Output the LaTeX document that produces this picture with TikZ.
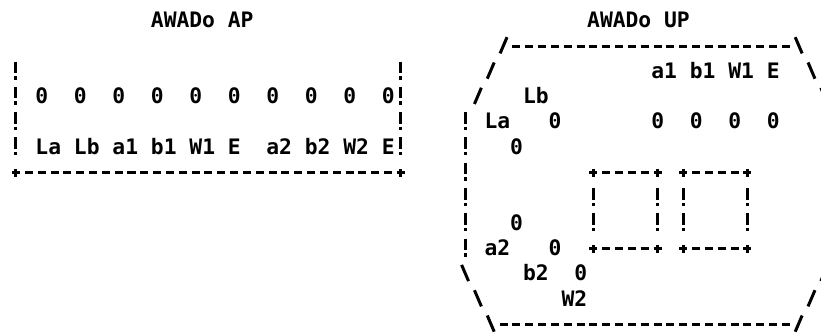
\documentclass[tikz,border=0pt]{standalone}
\usepackage{fontspec}
\newfontfamily\gridfont{DejaVu Sans Mono}
\tikzset{
  txt/.style={font=\gridfont\bfseries\fontsize{21.3}{25}\selectfont,inner sep=0pt,
    anchor=base west,xshift=-6.4pt,yshift=-7.75pt},
  hole/.style={txt},
  bar/.style={line width=3pt,dash pattern=on 11.5pt off 3pt on 3.5pt off 7.3pt},
  rule/.style={line width=3pt,dash pattern=on 8pt off 4.83pt},
  stroke/.style={line width=3pt},
}
\begin{document}
\begin{tikzpicture}[x=12.83pt,y=-25.3pt]
\useasboundingbox (-1.247,-0.79) rectangle (62.74,12.37);
% AP layout
\node[txt] (apt) at (11,0) {AWADo AP};
\draw[bar] (0,1.644) -- (0,5.356);
\draw[bar] (30,1.644) -- (30,5.356);
\draw[rule] (0.69,6.04) -- (29.31,6.04);
\foreach \k in {0,30}
 \draw[stroke] (\k-0.31,6.04) -- (\k+0.31,6.04) (\k,5.88) -- (\k,6.2);
\foreach \k/\s [count=\i] in {2/La,5/Lb,8/a1,11/b1,14/W1,17/E,20/a2,23/b2,26/W2,29/E}{%
 \node[hole] (ap\i) at (\k,3) {0};
 \node[txt] (apl\i) at (\k,5) {\s};}
% UP layout
\node[txt] (upt) at (45,0) {AWADo UP};
\draw[rule] (38.69,1.04) -- (60.31,1.04);
\draw[rule] (37.69,12.04) -- (60.31,12.04);
\foreach \k/\r in {38/1,37/2,36/3,63/10,62/11,61/12}
 \draw[stroke] (\k-0.27,\r+0.32) -- (\k+0.27,\r-0.32);
\foreach \k/\r in {61/1,62/2,63/3,35/10,36/11,37/12}
 \draw[stroke] (\k-0.27,\r-0.32) -- (\k+0.27,\r+0.32);
\draw[bar] (35,3.644) -- (35,9.356);
\foreach \a/\b in {45/50,52/57}{%
 \draw[rule] (\a+0.69,6.04) -- (\b-0.69,6.04);
 \draw[rule] (\a+0.69,9.04) -- (\b-0.69,9.04);
 \draw[bar] (\a,6.644) -- (\a,8.356);
 \draw[bar] (\b,6.644) -- (\b,8.356);
 \foreach \k in {\a,\b}
  \foreach \r in {6,9}
   \draw[stroke] (\k-0.31,\r+0.04) -- (\k+0.31,\r+0.04) (\k,\r-0.12) -- (\k,\r+0.2);}
\node[txt] (ua1) at (50,2) {a1};
\node[txt] (ub1) at (53,2) {b1};
\node[txt] (uw1) at (56,2) {W1};
\node[txt] (ue1) at (59,2) {E};
\node[txt] (ulb) at (40,3) {Lb};
\node[txt] (ula) at (37,4) {La};
\node[hole] (uh1) at (42,4) {0};
\foreach \k [count=\i from 2] in {50,53,56,59}
 \node[hole] (uh\i) at (\k,4) {0};
\node[hole] (uh6) at (39,5) {0};
\node[hole] (uh7) at (39,8) {0};
\node[txt] (ua2) at (37,9) {a2};
\node[hole] (uh8) at (42,9) {0};
\node[txt] (ub2) at (40,10) {b2};
\node[hole] (uh9) at (44,10) {0};
\node[txt] (uw2) at (43,11) {W2};
\end{tikzpicture}
\end{document}
